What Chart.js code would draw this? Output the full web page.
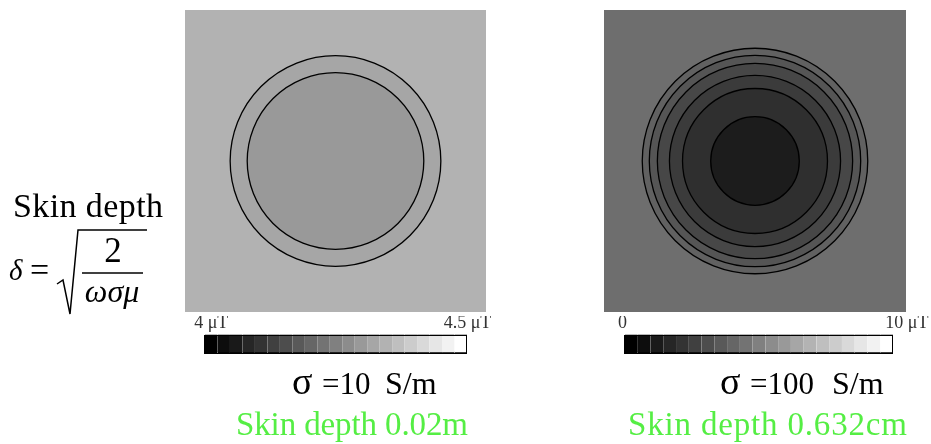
<!DOCTYPE html>
<html>
<head>
<meta charset="utf-8">
<script src="https://cdn.jsdelivr.net/npm/chart.js@4.4.1/dist/chart.umd.min.js"></script>
<style>
  html, body { margin: 0; padding: 0; background: #fff; }
  #wrap { position: relative; width: 931px; height: 444px; overflow: hidden; }
  canvas, svg { position: absolute; }
  svg text { font-family: "Liberation Serif", "Times New Roman", serif; }
</style>
</head>
<body>
<div id="wrap">
  <canvas id="leftMap" width="301" height="302" style="left:185px;top:10px"></canvas>
  <canvas id="rightMap" width="302" height="302" style="left:604px;top:10px"></canvas>
  <canvas id="leftBar" width="320" height="46" style="left:180px;top:310px"></canvas>
  <canvas id="rightBar" width="330" height="46" style="left:600px;top:310px"></canvas>

  <svg width="931" height="444" style="left:0;top:0;pointer-events:none">
    <text x="13" y="217" font-size="34" textLength="150">Skin depth</text>
    <text x="9" y="280" font-size="29" font-style="italic">δ</text>
    <text x="30" y="281" font-size="34">=</text>
    <polyline points="57,284 63,280 70,314 78,230 147,230" fill="none" stroke="#000" stroke-width="1.5"/>
    <text x="113" y="262" font-size="35" text-anchor="middle">2</text>
    <line x1="82" y1="273" x2="143" y2="273" stroke="#000" stroke-width="1.5"/>
    <text x="112" y="302" font-size="32" font-style="italic" text-anchor="middle">ωσμ</text>

    <text y="394" font-size="31"><tspan x="292" font-size="38">σ</tspan><tspan x="322">=10</tspan><tspan x="385" font-size="32">S/m</tspan></text>
    <text y="394" font-size="31"><tspan x="720" font-size="38">σ</tspan><tspan x="750">=100</tspan><tspan x="832" font-size="32">S/m</tspan></text>

    <text x="236" y="435" font-size="33" fill="#55ee44" textLength="232">Skin depth 0.02m</text>
    <text x="628" y="435" font-size="33" fill="#55ee44" textLength="279">Skin depth 0.632cm</text>
  </svg>
</div>

<script>
// σ = 10 S/m panel
const leftRange = [4, 4.5]; // colour bar limits, μT
const leftBarValues = [4.000, 4.025, 4.050, 4.075, 4.100, 4.125, 4.150, 4.175, 4.200, 4.225, 4.250,
  4.275, 4.300, 4.325, 4.350, 4.375, 4.400, 4.425, 4.450, 4.475, 4.500];
const leftBarTicks = ["4 μT", "4.5 μT"];
const leftTickNudge = [0, 3];                  // spaces pushing the end labels outwards
const leftRadii = [10.5, 8.8];                 // contour radii, outermost first
const leftLevels = [4.350, 4.325, 4.300];      // field between contours, outside -> centre

// σ = 100 S/m panel
const rightRange = [0, 10];
const rightBarValues = [0, 0.5, 1, 1.5, 2, 2.5, 3, 3.5, 4, 4.5, 5,
  5.5, 6, 6.5, 7, 7.5, 8, 8.5, 9, 9.5, 10];
const rightBarTicks = ["0", "10 μT"];
const rightTickNudge = [4, 9];
const rightRadii = [11.2, 10.5, 9.7, 8.5, 7.2, 4.4];
const rightLevels = [4.31, 3.80, 3.33, 2.78, 2.31, 1.84, 1.10];

const mapExtent = 15; // half width of the plotted square

// grey value of a field on the colour bar
function shade(v, range) {
  let f = (v - range[0]) / (range[1] - range[0]);
  f = Math.max(0, Math.min(1, f));
  const g = Math.round(255 * f);
  return "rgb(" + g + "," + g + "," + g + ")";
}

const areaPaint = {
  id: "areaPaint",
  beforeDatasetsDraw(chart, args, opts) {
    if (!opts.fill) return;
    const a = chart.chartArea;
    chart.ctx.save();
    chart.ctx.fillStyle = opts.fill;
    chart.ctx.fillRect(a.left, a.top, a.right - a.left, a.bottom - a.top);
    chart.ctx.restore();
  },
  afterDatasetsDraw(chart, args, opts) {
    if (!opts.outline) return;
    const a = chart.chartArea;
    const c = chart.ctx;
    c.save();
    c.strokeStyle = opts.outline;
    c.lineWidth = 1;
    c.strokeRect(Math.round(a.left) - 0.5, Math.round(a.top) + 0.5,
      Math.round(a.right - a.left), Math.round(a.bottom - a.top) - 1);
    c.restore();
  },
};

function makeMap(id, radii, levels, range) {
  const datasets = radii.map((r, i) => ({
    data: [{ x: 0, y: 0, r: r }],
    pointStyle: "circle",
    pointBackgroundColor: shade(levels[i + 1], range),
    pointBorderColor: "#000",
    pointBorderWidth: 1.3,
    pointRadius: function (ctx) {
      if (!ctx.raw) return 0;
      const s = ctx.chart.scales.x;
      return Math.abs(s.getPixelForValue(ctx.raw.r) - s.getPixelForValue(0));
    },
    order: radii.length - i,
  }));

  new Chart(document.getElementById(id), {
    type: "scatter",
    data: { datasets: datasets },
    options: {
      responsive: false,
      animation: false,
      events: [],
      layout: { padding: 0 },
      scales: {
        x: { display: false, min: -mapExtent, max: mapExtent },
        y: { display: false, min: -mapExtent, max: mapExtent },
      },
      plugins: {
        legend: { display: false },
        tooltip: { enabled: false },
        areaPaint: { fill: shade(levels[0], range) },
      },
    },
    plugins: [areaPaint],
  });
}

function makeBar(id, values, range, ticks, nudge, padLeft, padRight) {
  new Chart(document.getElementById(id), {
    type: "bar",
    data: {
      labels: values.map(String),
      datasets: [{
        data: values.map(() => 1),
        backgroundColor: values.map((v) => shade(v, range)),
        borderColor: "#000",
        borderWidth: { top: 1, bottom: 1, left: 0, right: 0 },
        borderSkipped: false,
        categoryPercentage: 1,
        barPercentage: 1,
      }],
    },
    options: {
      responsive: false,
      animation: false,
      events: [],
      layout: { padding: { left: padLeft, right: padRight, top: 6, bottom: 3 } },
      scales: {
        x: {
          position: "top",
          grid: { display: false, drawTicks: false },
          border: { display: false },
          ticks: {
            autoSkip: false,
            maxRotation: 0,
            padding: 0,
            color: "#333",
            font: { family: "'Liberation Serif', serif", size: 18 },
            callback: function (val, i, all) {
              if (i === 0) return ticks[0] + " ".repeat(nudge[0]);
              if (i === all.length - 1) return " ".repeat(nudge[1]) + ticks[1];
              return "";
            },
          },
        },
        y: { display: false, min: 0, max: 1 },
      },
      plugins: {
        legend: { display: false },
        tooltip: { enabled: false },
        areaPaint: { outline: "#000" },
      },
    },
    plugins: [areaPaint],
  });
}

makeMap("leftMap", leftRadii, leftLevels, leftRange);
makeMap("rightMap", rightRadii, rightLevels, rightRange);
makeBar("leftBar", leftBarValues, leftRange, leftBarTicks, leftTickNudge, 25, 33);
makeBar("rightBar", rightBarValues, rightRange, rightBarTicks, rightTickNudge, 25, 37);
</script>
</body>
</html>
